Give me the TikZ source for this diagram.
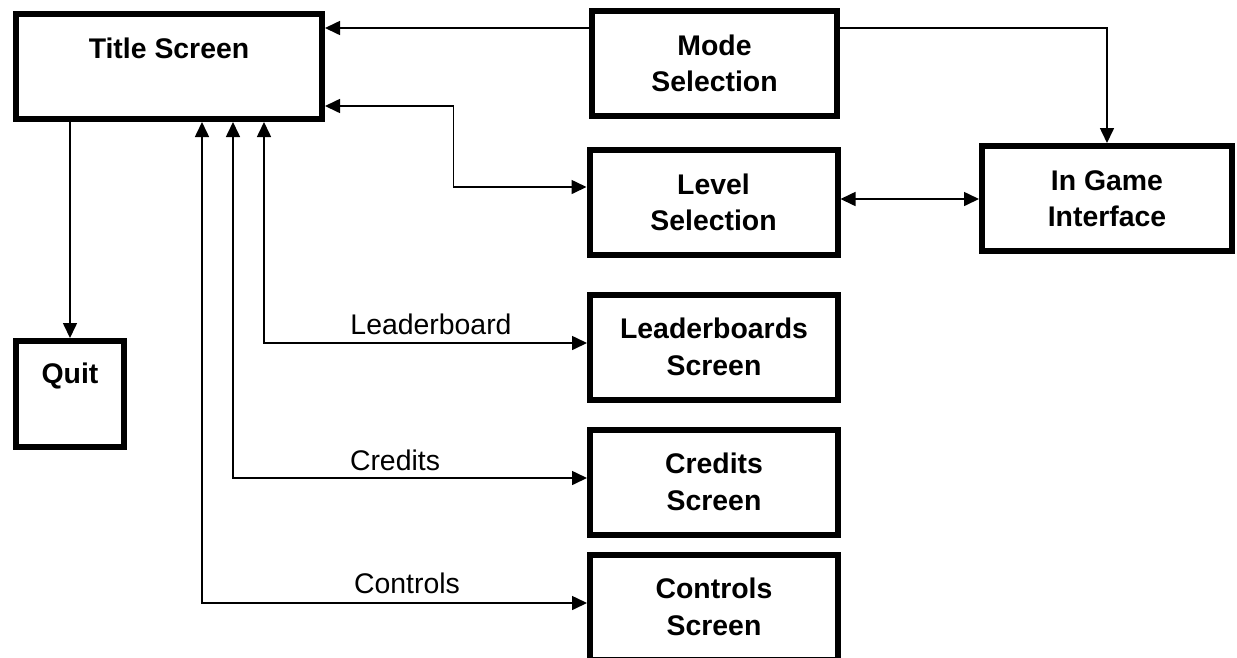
\documentclass[tikz,border=0pt]{standalone}
\usepackage{fontspec}
\setmainfont{Liberation Sans}
\usetikzlibrary{arrows.meta}

\begin{document}
\begin{tikzpicture}[x=1pt, y=-1pt,
        screen/.style={draw, line width=6pt, minimum width=248pt, minimum height=105pt, inner sep=0pt, align=center, font=\fontsize{28.4}{36.5}\selectfont\bfseries},
        lbl/.style={inner sep=0pt, font=\fontsize{28.4}{36.5}\selectfont},
        link/.style={line width=1.6pt, -{Triangle[length=15pt, width=14pt]}},
        both/.style={link, {Triangle[length=15pt, width=14pt]}-{Triangle[length=15pt, width=14pt]}}]
        \fill[white] (0,0) rectangle (1237,657);
        \useasboundingbox (0,0) rectangle (1237,657);
        % screens
        \node[screen, minimum width=306pt] (title) at (169,66.5) {Title Screen\\\phantom{Screen}};
        \node[screen, minimum width=245pt] (mode) at (714.5,63.5) {Mode\\Selection};
        \node[screen] (level) at (713.5,202.5) {Level\\Selection};
        \node[screen, minimum width=250pt] (ingame) at (1107,198.5) {In Game\\Interface};
        \node[screen, minimum width=108pt, minimum height=106pt] (quit) at (70,394) {Quit\\\phantom{Quit}};
        \node[screen] (lead) at (714,347) {Leaderboards\\Screen};
        \node[screen] (cred) at (714,482) {Credits\\Screen};
        \node[screen] (ctrl) at (714,607) {Controls\\Screen};
        % connectors
        \coordinate (m1) at ([yshift=35.5pt]mode.west);
        \coordinate (m2) at ([yshift=35.5pt]mode.east);
        \draw[link] (m1) -- (m1 -| title.east);
        \draw[link] (m2) -| (ingame.north);
        \coordinate (bend) at (453.5,0);
        \coordinate (t1) at ([yshift=-39.5pt]title.east);
        \coordinate (l1) at ([yshift=15.5pt]level.west);
        \draw[both] (t1) -- (t1 -| bend) -- (l1 -| bend) -- (l1);
        \coordinate (l2) at ([yshift=3.5pt]level.east);
        \draw[both] (l2) -- (l2 -| ingame.west);
        \draw[link] (quit.north |- title.south) -- (quit.north);
        \foreach \n/\dx in {lead/95, cred/64, ctrl/33}
            \draw[both] ([xshift=\dx pt]title.south) |- ([yshift=4pt]\n.west);
        % labels
        \node[lbl] (tlead) at (431,324) {Leaderboard};
        \node[lbl] (tcred) at (395,460) {Credits};
        \node[lbl] (tctrl) at (407,583) {Controls};
    \end{tikzpicture}
\end{document}
